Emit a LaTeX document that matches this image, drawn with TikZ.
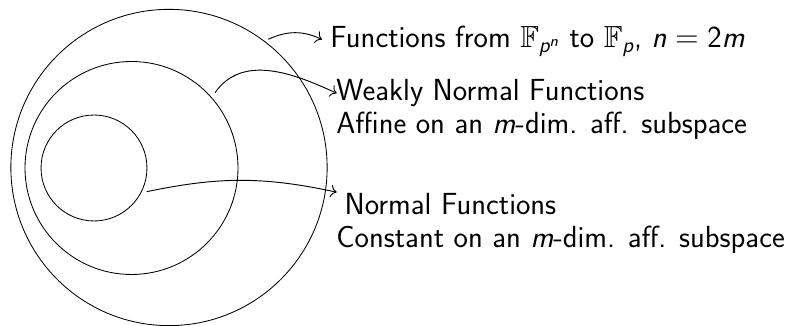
\documentclass[tikz,border=0pt]{standalone}
\usepackage{amsmath,amssymb}
\usetikzlibrary{arrows.meta}
\begin{document}
\begin{tikzpicture}[x=0.018868cm,y=0.018868cm,
  ring/.style={circle,draw,inner sep=0pt,line width=0.45pt},
  lbl/.style={inner sep=0pt,align=left,anchor=north west,
    font=\sffamily\fontsize{16.4pt}{17.6pt}\selectfont},
  link/.style={-{To[scale=1.2]},line width=0.5pt}]
\useasboundingbox (0,0) rectangle (795,326);
% sets
\node[ring,minimum size=2cm]    (c1) at (94,158) {};
\node[ring,minimum size=4.02cm] (c2) at (131.5,158) {};
\node[ring,minimum size=5.97cm] (c3) at (169,158.5) {};
% labels
\node[lbl] (t1) at (330,300) {Functions from $\mathbb{F}_{\textit{p}^{\textit{n}}}$ to $\mathbb{F}_{\textit{p}}$, $\textit{n} = \textsf{2}\textit{m}$};
\node[lbl] (t2) at (336,247) {Weakly Normal Functions\\Affine on an \textit{m}-dim. aff. subspace};
\node[lbl] (t3) at (336,133) {\hspace*{4.4pt}Normal Functions\\Constant on an \textit{m}-dim. aff. subspace};
% arrow ends
\coordinate (s1) at (268.3,286.7);
\coordinate (e1) at (322,286.5);
\coordinate (s2) at (215,233.3);
\coordinate (e2) at (336.7,232.7);
\coordinate (s3) at (146.7,134.3);
\coordinate (e3) at (336.7,133.8);
\draw[link] (s1) to[bend left=25] (e1);
\draw[link] (s2) to[out=55,in=155] (e2);
\draw[link] (s3) to[bend left=12] (e3);
\end{tikzpicture}
\end{document}
